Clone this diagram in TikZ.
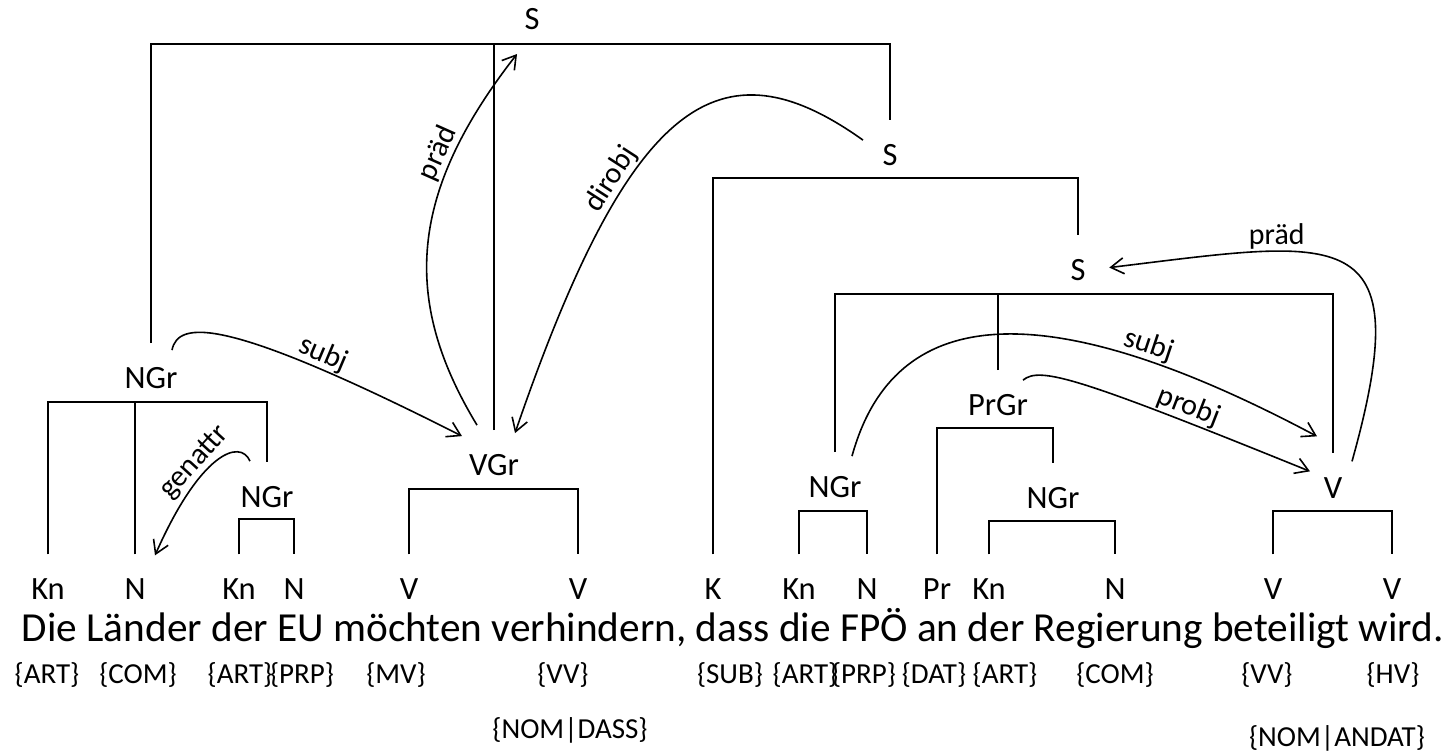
\documentclass[tikz,border=0pt]{standalone}
\usepackage{fontspec}
\setmainfont{Carlito}
\usetikzlibrary{arrows.meta}

\tikzset{
    cat/.style={font=\fontsize{32.5}{32.5}\selectfont, inner sep=0pt, anchor=base},
    tagl/.style={font=\fontsize{29}{29}\selectfont, inner sep=0pt},
    rel/.style={-{Straight Barb[length=13pt,width=16pt]}},
    rlabel/.style={font=\fontsize{30}{30}\selectfont, sloped, above, inner sep=1pt},
}

\begin{document}
\begin{tikzpicture}[x=1pt, y=-1pt, line width=1.6pt]
    \useasboundingbox (0,0) rectangle (1445,752);

    %Saetze und Gruppen
    \node[cat] (S1) at (532,30) {S};
    \node[cat] (S2) at (890,165) {S};
    \node[cat] (S3) at (1078,280) {S};
    \node[cat] (NGrLaender) at (151,388) {NGr};
    \node[cat] (NGrEU) at (267,507) {NGr};
    \node[cat] (VGr) at (494,475) {VGr};
    \node[cat] (NGrFPOE) at (835,497) {NGr};
    \node[cat] (PrGr) at (998,415) {PrGr};
    \node[cat] (NGrRegierung) at (1053,508) {NGr};
    \node[cat] (VTop) at (1333,498) {V};

    %Wortarten
    \node[cat] (KnDie) at (48,599) {Kn};
    \node[cat] (NLaender) at (135,599) {N};
    \node[cat] (KnDer) at (239,599) {Kn};
    \node[cat] (NEU) at (294,599) {N};
    \node[cat] (VMoechten) at (409,599) {V};
    \node[cat] (VVerhindern) at (578,599) {V};
    \node[cat] (KDass) at (713,599) {K};
    \node[cat] (KnDie2) at (799,599) {Kn};
    \node[cat] (NFPOE) at (867,599) {N};
    \node[cat] (PrAn) at (937,599) {Pr};
    \node[cat] (KnDer2) at (989,599) {Kn};
    \node[cat] (NRegierung) at (1115,599) {N};
    \node[cat] (VBeteiligt) at (1273,599) {V};
    \node[cat] (VWird) at (1392,599) {V};

    %Satz
    \node[font=\fontsize{41.3}{41.3}\selectfont, inner sep=0pt, anchor=base west] (Satz) at (21,641)
        {Die Länder der EU möchten verhindern, dass die FPÖ an der Regierung beteiligt wird.};

    %Merkmale
    \node[tagl] (tArt1) at (47,675) {\{ART\}};
    \node[tagl] (tCom1) at (138,675) {\{COM\}};
    \node[tagl] (tArt2) at (240,675) {\{ART\}};
    \node[tagl] (tPrp1) at (302,675) {\{PRP\}};
    \node[tagl] (tMv) at (396,675) {\{MV\}};
    \node[tagl] (tVv1) at (563,675) {\{VV\}};
    \node[tagl] (tSub) at (730,675) {\{SUB\}};
    \node[tagl] (tArt3) at (805,675) {\{ART\}};
    \node[tagl] (tPrp2) at (864,675) {\{PRP\}};
    \node[tagl] (tDat) at (934,675) {\{DAT\}};
    \node[tagl] (tArt4) at (1005,675) {\{ART\}};
    \node[tagl] (tCom2) at (1115,675) {\{COM\}};
    \node[tagl] (tVv2) at (1267,675) {\{VV\}};
    \node[tagl] (tHv) at (1393,675) {\{HV\}};
    \node[tagl] (tNomDass) at (570,730) {\{NOM|DASS\}};
    \node[tagl] (tNomAndat) at (1337,738) {\{NOM|ANDAT\}};

    %Baum
    \coordinate (S1bar) at ([yshift=-13pt]S1.south);
    \draw ([yshift=23pt]NGrLaender.north) |- (S1bar) -| ([yshift=23pt]S2.north);
    \draw ([yshift=23pt]VGr.north) -- (VGr.north |- S1bar);

    \coordinate (S2bar) at ([yshift=-12pt]S2.south);
    \draw ([yshift=23pt]KDass.north) |- (S2bar) -| ([yshift=23pt]S3.north);

    \coordinate (S3bar) at ([yshift=-13pt]S3.south);
    \draw ([yshift=23pt]NGrFPOE.north) |- (S3bar) -| ([yshift=23pt]VTop.north);
    \draw ([yshift=23pt]PrGr.north) -- (PrGr.north |- S3bar);

    \coordinate (NGrLaenderbar) at ([yshift=-13pt]NGrLaender.south);
    \draw ([yshift=23pt]KnDie.north) |- (NGrLaenderbar) -| ([yshift=23pt]NGrEU.north);
    \draw ([yshift=23pt]NLaender.north) -- (NLaender.north |- NGrLaenderbar);

    \coordinate (NGrEUbar) at ([yshift=-11pt]NGrEU.south);
    \draw ([yshift=23pt]KnDer.north) |- (NGrEUbar) -| ([yshift=23pt]NEU.north);

    \coordinate (VGrbar) at ([yshift=-13pt]VGr.south);
    \draw ([yshift=23pt]VMoechten.north) |- (VGrbar) -| ([yshift=23pt]VVerhindern.north);

    \coordinate (NGrFPOEbar) at ([yshift=-13pt]NGrFPOE.south);
    \draw ([yshift=23pt]KnDie2.north) |- (NGrFPOEbar) -| ([yshift=23pt]NFPOE.north);

    \coordinate (PrGrbar) at ([yshift=-12pt]PrGr.south);
    \draw ([yshift=23pt]PrAn.north) |- (PrGrbar) -| ([yshift=23pt]NGrRegierung.north);

    \coordinate (NGrRegierungbar) at ([yshift=-12pt]NGrRegierung.south);
    \draw ([yshift=23pt]KnDer2.north) |- (NGrRegierungbar) -| ([yshift=23pt]NRegierung.north);

    \coordinate (VTopbar) at ([yshift=-12pt]VTop.south);
    \draw ([yshift=23pt]VBeteiligt.north) |- (VTopbar) -| ([yshift=23pt]VWird.north);

    %Relationen
    \draw[rel] ([shift={(-17,-28)}]VGr.north) .. controls +(-77,-127) and +(-107,137) .. ([shift={(-15,23)}]S1.south)
        node[rlabel, pos=0.73] {präd};
    \draw[rel] ([shift={(-27,-3)}]S2.north) .. controls +(-143,-102) and +(115,-335) .. ([shift={(21,-20)}]VGr.north)
        node[rlabel, pos=0.67] {dirobj};
    \draw[rel] ([shift={(21,-16)}]NGrLaender.north) .. controls +(6,-30) and +(-237,-120) .. ([shift={(-32,-17)}]VGr.north)
        node[rlabel, pos=0.75] {subj};
    \draw[rel] ([shift={(-17,-24)}]NGrEU.north) .. controls +(-10,-23) and +(45,-102) .. ([shift={(20,-22)}]NLaender.north)
        node[rlabel, pos=0.6] {genattr};
    \draw[rel] ([shift={(17,-19)}]NGrFPOE.north) .. controls +(38,-138) and +(-297,-158) .. ([shift={(-16,-40)}]VTop.north)
        node[rlabel, pos=0.78] {subj};
    \draw[rel] ([shift={(25,-13)}]PrGr.north) .. controls +(17,-14) and +(-232,-94) .. ([shift={(-23,-5)}]VTop.north)
        node[rlabel, pos=0.78] {probj};
    \draw[rel] ([shift={(19,-15)}]VTop.north) .. controls +(68,-243) and +(232,-28) .. ([shift={(23,-2)}]S3.east)
        node[rlabel, pos=0.7] {präd};
\end{tikzpicture}
\end{document}
